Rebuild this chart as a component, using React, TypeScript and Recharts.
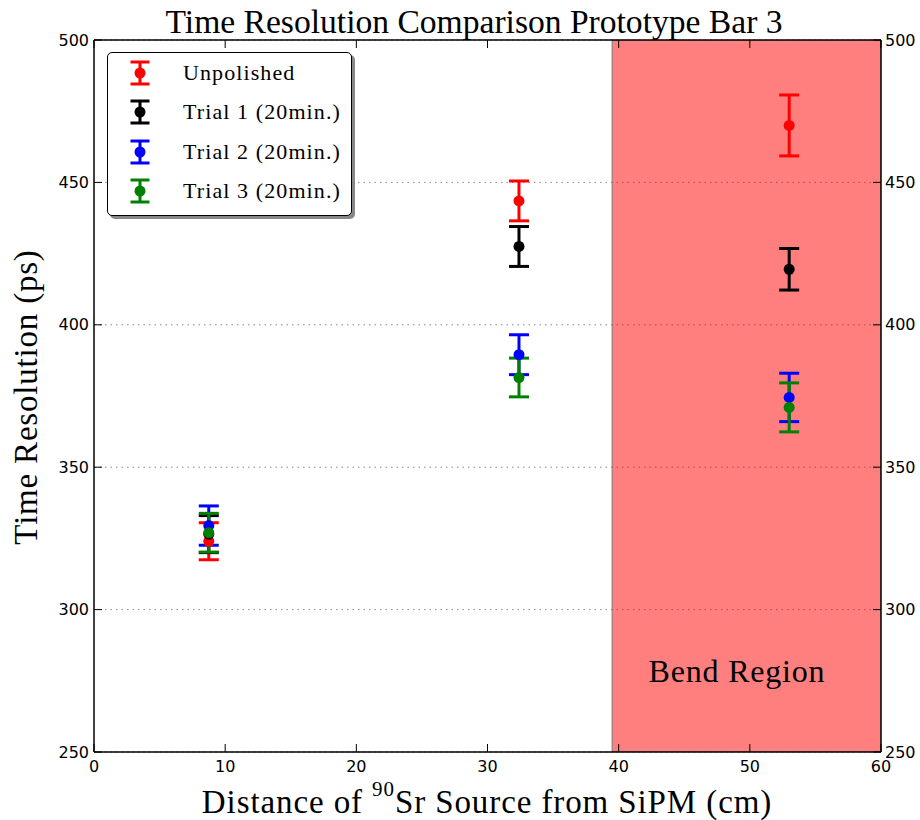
import React from "react";
import {
  ScatterChart,
  Scatter,
  XAxis,
  YAxis,
  CartesianGrid,
  ErrorBar,
  ReferenceArea,
  ReferenceLine,
} from "recharts";

// distance of the source from the SiPM (cm)
const distances = [8.75, 32.4, 53.0];

const unpolished = [324, 443.5, 470];
const unpolishedErr = [6.5, 7, 10.7];
const trial1 = [326.5, 427.5, 419.5];
const trial1Err = [6.5, 7, 7.3];
const trial2 = [329.5, 389.5, 374.5];
const trial2Err = [6.9, 7, 8.5];
const trial3 = [327, 381.5, 371];
const trial3Err = [6.8, 6.8, 8.6];

const xTicks = [0, 10, 20, 30, 40, 50, 60];
const yTicks = [250, 300, 350, 400, 450, 500];
const bendStart = 39.5;

const series = [
  { name: "Unpolished", color: "#ff0000", values: unpolished, errors: unpolishedErr },
  { name: "Trial 1 (20min.)", color: "#000000", values: trial1, errors: trial1Err },
  { name: "Trial 2 (20min.)", color: "#0000ff", values: trial2, errors: trial2Err },
  { name: "Trial 3 (20min.)", color: "#008000", values: trial3, errors: trial3Err },
];

const W = 920;
const H = 820;
const L = 94;
const R = 881;
const T = 40;
const B = 752;

const serif = "'Liberation Serif', 'Times New Roman', serif";
const sans = "'DejaVu Sans', sans-serif";

const BottomTick = ({ x, payload }: any) => (
  <g>
    <line x1={x} x2={x} y1={B} y2={B - 8} stroke="#000" strokeWidth={1} />
    <line x1={x} x2={x} y1={T} y2={T + 8} stroke="#000" strokeWidth={1} />
    <text x={x} y={B + 14} textAnchor="middle" dominantBaseline="central" fontFamily={sans} fontSize={16} fill="#000">
      {payload.value}
    </text>
  </g>
);

const LeftTick = ({ y, payload }: any) => (
  <g>
    <line x1={L} x2={L + 8} y1={y} y2={y} stroke="#000" strokeWidth={1} />
    <line x1={R} x2={R - 8} y1={y} y2={y} stroke="#000" strokeWidth={1} />
    <text x={L - 5} y={y} textAnchor="end" dominantBaseline="central" fontFamily={sans} fontSize={16} fill="#000">
      {payload.value}
    </text>
  </g>
);

const RightTick = ({ y, payload }: any) => (
  <text x={R + 4} y={y} textAnchor="start" dominantBaseline="central" fontFamily={sans} fontSize={16} fill="#000">
    {payload.value}
  </text>
);

const Dot = (color: string) => (props: any) =>
  <circle cx={props.cx} cy={props.cy} r={5.5} fill={color} />;

function LegendGlyph({ color }: { color: string }) {
  return (
    <svg width={24} height={26} style={{ display: "block" }}>
      <line x1={12} x2={12} y1={2} y2={24} stroke={color} strokeWidth={3} />
      <line x1={2.5} x2={21.5} y1={2} y2={2} stroke={color} strokeWidth={3} />
      <line x1={2.5} x2={21.5} y1={24} y2={24} stroke={color} strokeWidth={3} />
      <circle cx={12} cy={13} r={5.5} fill={color} />
    </svg>
  );
}

export default function App() {
  return (
    <div style={{ position: "absolute", left: 0, top: 0, width: W, height: H, background: "#fff" }}>
      <ScatterChart width={W} height={H} margin={{ top: T, right: 0, bottom: 0, left: 0 }}>
        <CartesianGrid yAxisId="left" vertical={false} stroke="#888" strokeDasharray="1.5 4" />
        <XAxis
          type="number"
          dataKey="x"
          domain={[0, 60]}
          ticks={xTicks}
          height={H - B}
          tickLine={false}
          axisLine={{ stroke: "#000", strokeWidth: 1.5 }}
          tick={<BottomTick />}
          allowDataOverflow
        />
        <YAxis
          yAxisId="left"
          type="number"
          dataKey="y"
          domain={[250, 500]}
          ticks={yTicks}
          width={L}
          tickLine={false}
          axisLine={{ stroke: "#000", strokeWidth: 1.5 }}
          tick={<LeftTick />}
          allowDataOverflow
        />
        <YAxis
          yAxisId="right"
          orientation="right"
          type="number"
          domain={[250, 500]}
          ticks={yTicks}
          width={W - R}
          tickLine={false}
          axisLine={{ stroke: "#000", strokeWidth: 1.5 }}
          tick={<RightTick />}
          allowDataOverflow
        />
        <ReferenceArea
          yAxisId="left"
          x1={bendStart}
          x2={60}
          y1={250}
          y2={500}
          fill="#ff0000"
          fillOpacity={0.5}
          stroke="#777"
          strokeWidth={1}
          ifOverflow="hidden"
        />
        <ReferenceLine yAxisId="left" y={500} stroke="#000" strokeWidth={1.5} />
        {series.map((s) => (
          <Scatter
            key={s.name}
            yAxisId="left"
            name={s.name}
            data={distances.map((x, i) => ({ x, y: s.values[i], err: s.errors[i] }))}
            fill={s.color}
            shape={Dot(s.color)}
            isAnimationActive={false}
          >
            <ErrorBar dataKey="err" direction="y" width={10} stroke={s.color} strokeWidth={3} />
          </Scatter>
        ))}
      </ScatterChart>
      <svg
        width={W}
        height={H}
        style={{ position: "absolute", left: 0, top: 0, pointerEvents: "none" }}
      >
        <text x={474} y={22} textAnchor="middle" dominantBaseline="central" fontFamily={serif} fontSize={33} fill="#000" textLength={617} lengthAdjust="spacingAndGlyphs">
          Time Resolution Comparison Prototype Bar 3
        </text>
        <text x={487} y={802} textAnchor="middle" dominantBaseline="central" fontFamily={serif} fontSize={33} fill="#000" letterSpacing={0.9}>
          Distance of <tspan fontSize={21} dy={-13}>90</tspan>
          <tspan dy={13}>Sr Source from SiPM (cm)</tspan>
        </text>
        <text
          x={26}
          y={397}
          textAnchor="middle"
          dominantBaseline="central"
          fontFamily={serif}
          fontSize={33}
          fill="#000"
          letterSpacing={0.8}
          transform="rotate(-90 26 397)"
        >
          Time Resolution (ps)
        </text>
        <text x={737} y={671} textAnchor="middle" dominantBaseline="central" fontFamily={serif} fontSize={32} fill="#000" letterSpacing={0.8}>
          Bend Region
        </text>
      </svg>
      <div
        style={{
          position: "absolute",
          left: 107,
          top: 52,
          width: 245,
          height: 164,
          boxSizing: "border-box",
          border: "1.5px solid #000",
          borderRadius: 5,
          background: "#fff",
          boxShadow: "3px 3px 0 #888",
          paddingTop: 0,
        }}
      >
        {series.map((s) => (
          <div key={s.name} style={{ display: "flex", alignItems: "center", height: 39.5 }}>
            <div style={{ marginLeft: 20 }}>
              <LegendGlyph color={s.color} />
            </div>
            <span style={{ marginLeft: 31, fontFamily: serif, fontSize: 22, letterSpacing: 1.1, color: "#000" }}>{s.name}</span>
          </div>
        ))}
      </div>
    </div>
  );
}
